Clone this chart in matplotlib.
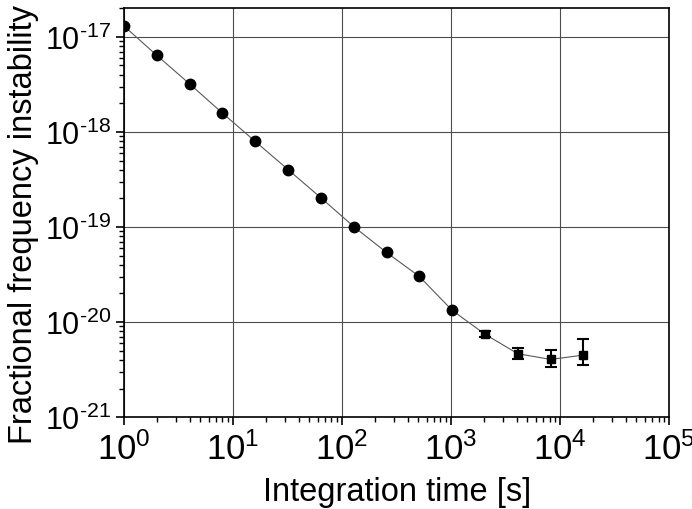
import matplotlib
matplotlib.use('Agg')
import matplotlib.pyplot as plt
import matplotlib.ticker as mticker
import numpy as np

plt.rcParams['font.family'] = ['Liberation Sans', 'DejaVu Sans']
plt.rcParams['mathtext.fontset'] = 'custom'
plt.rcParams['mathtext.rm'] = 'Liberation Sans'
plt.rcParams['mathtext.it'] = 'Liberation Sans'

# Integration times (s) and fractional frequency instability
tau = [1, 2, 4, 8, 16, 32, 64, 128, 256, 512, 1024, 2048, 4096, 8192, 16384]
sigma = [1.30e-17, 6.4e-18, 3.2e-18, 1.58e-18, 7.95e-19, 4.02e-19, 2.03e-19,
         1.01e-19, 5.4e-20, 3.02e-20, 1.33e-20, 7.45e-21, 4.65e-21, 4.05e-21, 4.5e-21]
# error bars (lower, upper) for the last four points
err_tau = [2048, 4096, 8192, 16384]
err_lo = [6.9e-21, 4.08e-21, 3.34e-21, 3.53e-21]
err_hi = [8.0e-21, 5.4e-21, 5.07e-21, 6.6e-21]


def sci_label(v, pos):
    e = int(round(np.log10(v)))
    if e < 0:
        return r'$10^{\text{-%d}}$' % (-e)
    return r'$10^{%d}$' % e


fig = plt.figure(figsize=(6.92, 5.10), dpi=100)
ax = fig.add_axes([0.179, 0.180, 0.788, 0.802])

ax.set_xscale('log')
ax.set_yscale('log')
ax.set_xlim(1, 1e5)
ax.set_ylim(1e-21, 2e-17)

ax.grid(True, which='major', color='0.3', lw=0.8)
ax.set_axisbelow(True)

ax.plot(tau, sigma, '-', color='0.35', lw=0.8, zorder=2)
n_circ = len(tau) - len(err_tau)
ax.plot(tau[:n_circ], sigma[:n_circ], 'o', color='black', ms=7.5, zorder=3)
sq = sigma[n_circ:]
yerr = [np.array(sq) - np.array(err_lo), np.array(err_hi) - np.array(sq)]
ax.errorbar(err_tau, sq, yerr=yerr, fmt='s', color='black', ms=6,
            capsize=4, elinewidth=1.5, capthick=1.5, zorder=3)

for axis in (ax.xaxis, ax.yaxis):
    axis.set_major_locator(mticker.LogLocator(base=10, numticks=20))
    axis.set_minor_locator(mticker.LogLocator(base=10, subs=np.arange(2, 10), numticks=20))
    axis.set_major_formatter(mticker.FuncFormatter(sci_label))
    axis.set_minor_formatter(mticker.NullFormatter())

ax.tick_params(which='major', direction='out', length=6, width=1.2,
               top=False, right=False)
ax.tick_params(axis='x', which='major', labelsize=25, pad=4)
ax.tick_params(axis='y', which='major', labelsize=22, pad=3)
ax.tick_params(which='minor', direction='out', length=3.5, width=1.0,
               top=False, right=False)
for s in ax.spines.values():
    s.set_linewidth(1.2)

fig.text(0.574, 0.004, 'Integration time [s]', fontsize=23.5,
         ha='center', va='bottom')
fig.text(0.034, 0.56, 'Fractional frequency instability', fontsize=23.5,
         rotation=90, ha='center', va='center')

fig.savefig('out.png', dpi=100)
